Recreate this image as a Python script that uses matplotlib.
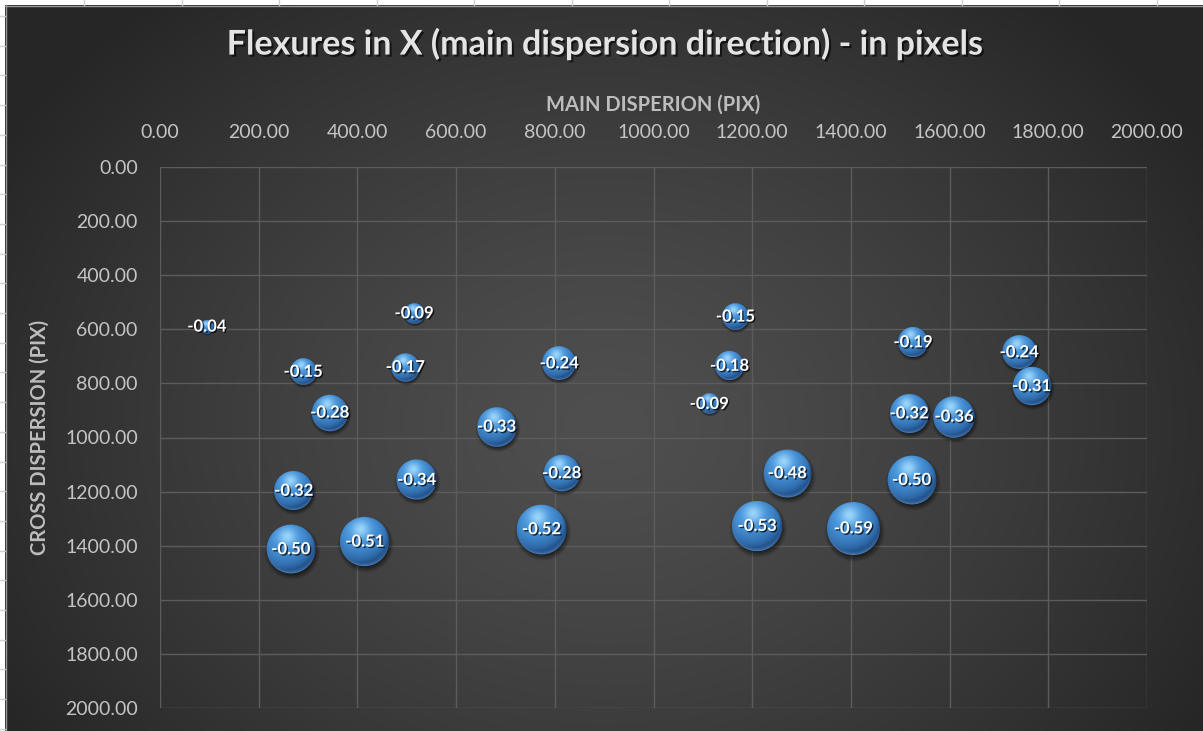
import numpy as np
import matplotlib
matplotlib.use("Agg")
import matplotlib.pyplot as plt
import matplotlib.patheffects as pe
from matplotlib.offsetbox import OffsetImage, AnnotationBbox
from matplotlib.ticker import MultipleLocator, FormatStrFormatter
from matplotlib.lines import Line2D

# flexure measurements: position on the detector (pix) and shift in X (pix)
main_disp = [95, 290, 344, 271, 265, 415, 515, 497, 520, 682, 809, 814, 773,
             1166, 1154, 1113, 1271, 1210, 1405, 1526, 1518, 1609, 1523, 1741, 1766]
cross_disp = [590, 757, 908, 1197, 1413, 1385, 541, 740, 1157, 960, 726, 1132, 1339,
              553, 735, 876, 1132, 1327, 1336, 648, 911, 923, 1157, 685, 810]
flexure_x = [-0.04, -0.15, -0.28, -0.32, -0.50, -0.51, -0.09, -0.17, -0.34, -0.33, -0.24,
             -0.28, -0.52, -0.15, -0.18, -0.09, -0.48, -0.53, -0.59, -0.19, -0.32, -0.36,
             -0.50, -0.24, -0.31]

TITLE = "Flexures in X (main dispersion direction) - in pixels"
XLABEL = "MAIN DISPERION (PIX)"
YLABEL = "CROSS DISPERSION (PIX)"

W, H, DPI = 1203, 731, 100
FONT = "Lato"
BUBBLE_MAX_PX = 53.0


def fx(px):
    return px / W


def fy(py):
    return 1 - py / H


def sphere(d, ss=4):
    """RGBA image of a shaded blue ball of diameter d pixels with a soft shadow."""
    R = d / 2.0
    n = int(np.ceil(d * 1.3)) + 4
    N = n * ss
    c = (np.arange(N) + 0.5) / ss - n / 2.0
    X, Y = np.meshgrid(c, c)
    u, v = X / R, Y / R
    rr = u ** 2 + v ** 2
    r = np.sqrt(rr)
    inside = (rr <= 1.0).astype(float)
    z = np.sqrt(np.clip(1 - rr, 0, 1))
    L = np.array([-0.25, -0.55, 0.80])
    L /= np.linalg.norm(L)
    lam = np.clip(u * L[0] + v * L[1] + z * L[2], 0, 1)
    dark = np.array([0.13, 0.32, 0.55])
    mid = np.array([0.29, 0.60, 0.88])
    hi = np.array([0.68, 0.89, 1.00])
    rgb = dark + (mid - dark) * (lam ** 0.7)[..., None]
    spot = np.exp(-((u + 0.15) ** 2 + (v + 0.5) ** 2) / 0.12)
    rgb = rgb + (hi - rgb) * (0.8 * spot)[..., None]
    rim = np.clip(v, 0, 1) * np.exp(-(1 - np.clip(r, 0, 1)) / 0.07)
    rgb = rgb + (np.array([0.60, 0.80, 0.97]) - rgb) * (0.45 * rim)[..., None]
    sd = np.sqrt((u - 0.05) ** 2 + (v - 0.12) ** 2)
    sh = 0.55 * np.clip((1.15 - sd) / 0.25, 0, 1)
    alpha = inside + (1 - inside) * sh
    pm = rgb * inside[..., None]
    pm = pm.reshape(n, ss, n, ss, 3).mean(axis=(1, 3))
    a = alpha.reshape(n, ss, n, ss).mean(axis=(1, 3))
    col = pm / np.maximum(a, 1e-6)[..., None]
    return np.dstack([np.clip(col, 0, 1), a])


fig = plt.figure(figsize=(W / DPI, H / DPI), dpi=DPI, facecolor="white")

# spreadsheet cell lines peeking out around the chart
for k in range(13):
    x = fx(84 + 97.5 * k)
    fig.add_artist(Line2D([x, x], [fy(0), fy(5)], color="#d0d0d0", lw=1))
for k in range(25):
    y = fy(16 + 29.7 * k)
    fig.add_artist(Line2D([fx(0), fx(5)], [y, y], color="#d0d0d0", lw=1))

# dark radial gradient of the chart area
bg = fig.add_axes([fx(5), 0, 1 - fx(5), fy(5)], zorder=0)
gy, gx = np.mgrid[0:726, 0:1198]
rad = np.sqrt(((gx - 600) / 700.0) ** 2 + ((gy - 420) / 560.0) ** 2)
t = np.clip(rad, 0, 1) ** 1.3
inner, outer = np.array([0.31, 0.31, 0.31]), np.array([0.15, 0.15, 0.15])
bg.imshow(inner + (outer - inner) * t[..., None], aspect="auto", interpolation="bilinear")
bg.set_axis_off()
fig.add_artist(Line2D([fx(5), 1], [fy(5.5), fy(5.5)], color="#9a9a9a", lw=1))
fig.add_artist(Line2D([fx(5.5), fx(5.5)], [0, fy(5)], color="#9a9a9a", lw=1))

ax = fig.add_axes([fx(160), fy(708), fx(1147) - fx(160), fy(167) - fy(708)], zorder=1)
ax.patch.set_alpha(0)
ax.set_xlim(0, 2000)
ax.set_ylim(2000, 0)
ax.xaxis.set_major_locator(MultipleLocator(200))
ax.yaxis.set_major_locator(MultipleLocator(200))
ax.xaxis.set_major_formatter(FormatStrFormatter("%.2f"))
ax.yaxis.set_major_formatter(FormatStrFormatter("%.2f"))
ax.xaxis.tick_top()
ax.xaxis.set_label_position("top")
ax.tick_params(axis="both", length=0, colors="#c4c4c4", labelsize=14)
ax.tick_params(axis="x", pad=19)
ax.tick_params(axis="y", pad=16)
for lab in ax.get_xticklabels() + ax.get_yticklabels():
    lab.set_fontfamily(FONT)
for s in ax.spines.values():
    s.set_visible(False)
ax.grid(True, color="#5c5c5c", lw=1)
ax.set_axisbelow(True)

ax.set_xlabel(XLABEL, fontsize=14.5, fontweight="bold", color="#bdbdbd", family=FONT, labelpad=9)
ax.set_ylabel(YLABEL, fontsize=14.5, fontweight="bold", color="#bdbdbd", family=FONT, labelpad=11)

fig.text(fx(605), fy(44), TITLE, ha="center", va="center", fontsize=24.5, color="#e4e4e4",
         family=FONT, fontweight="bold",
         path_effects=[pe.withSimplePatchShadow(offset=(1.5, -1.5), shadow_rgbFace="black", alpha=0.6)])

# bubbles: area proportional to |flexure|
sizes = np.abs(np.array(flexure_x))
diam = BUBBLE_MAX_PX * np.sqrt(sizes / sizes.max())
ax.scatter(main_disp, cross_disp, s=(0.9 * diam * 72 / DPI) ** 2, color="#3a7cc0",
           linewidths=0, zorder=2)
for x, y, d in zip(main_disp, cross_disp, diam):
    ab = AnnotationBbox(OffsetImage(sphere(d), zoom=1, dpi_cor=False), (x, y),
                        xycoords="data", frameon=False, pad=0, box_alignment=(0.5, 0.5))
    ab.set_zorder(3)
    ax.add_artist(ab)

for x, y, v in zip(main_disp, cross_disp, flexure_x):
    ax.text(x, y, f"{v:.2f}", ha="center", va="center", fontsize=12, fontweight="bold",
            color="white", family=FONT, zorder=4,
            path_effects=[pe.withSimplePatchShadow(offset=(1, -1), shadow_rgbFace="black", alpha=0.7)])

fig.savefig("out.png", dpi=DPI, facecolor="white")
